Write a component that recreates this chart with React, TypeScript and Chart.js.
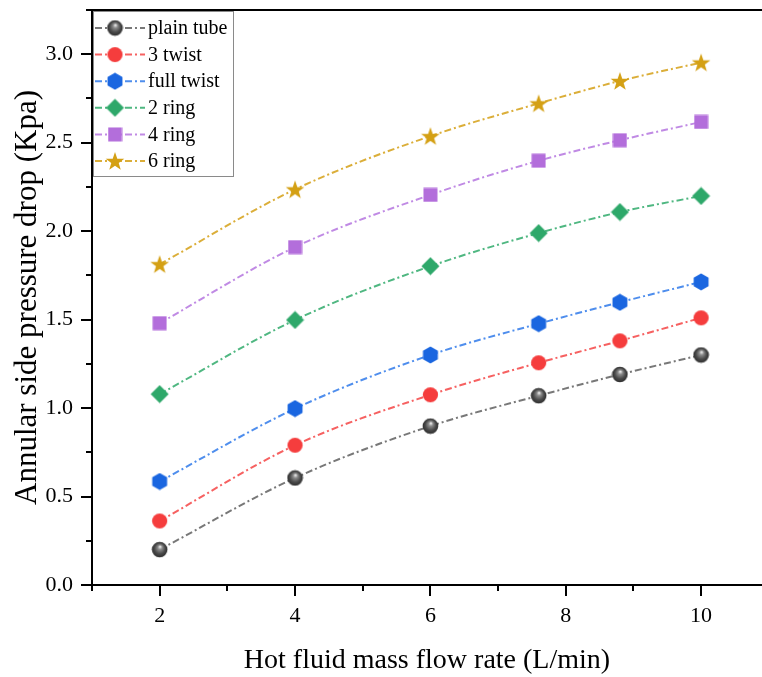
import React, { useEffect, useRef } from 'react';
import { Chart, registerables } from 'chart.js';

Chart.register(...registerables);

const flowRates = [2, 4, 6, 7.6, 8.8, 10];
const seriesNames = ['plain tube', '3 twist', 'full twist', '2 ring', '4 ring', '6 ring'];
const plainTube = [0.2, 0.605, 0.898, 1.07, 1.19, 1.3];
const threeTwist = [0.362, 0.79, 1.075, 1.256, 1.38, 1.51];
const fullTwist = [0.585, 0.997, 1.3, 1.477, 1.598, 1.713];
const twoRing = [1.079, 1.498, 1.802, 1.989, 2.108, 2.199];
const fourRing = [1.48, 1.91, 2.205, 2.398, 2.514, 2.617];
const sixRing = [1.813, 2.236, 2.537, 2.722, 2.849, 2.953];
const xTickLabels = [2, 4, 6, 8, 10];
const yTickLabels = [0, 0.5, 1, 1.5, 2, 2.5, 3];

const markerColors = ['#4a4a4a', '#F53D3D', '#1A66E0', '#2EA86A', '#B36EDB', '#D4A014'];
const lineColors = [
  'rgba(105,105,105,0.9)',
  'rgba(245,80,80,0.9)',
  'rgba(60,130,235,0.9)',
  'rgba(60,175,115,0.9)',
  'rgba(185,125,225,0.9)',
  'rgba(215,165,35,0.9)',
];

const SERIF = '"Liberation Serif", "Times New Roman", serif';

function makeCanvas(size: number, draw: (ctx: CanvasRenderingContext2D, c: number) => void) {
  const cv = document.createElement('canvas');
  cv.width = size;
  cv.height = size;
  const ctx = cv.getContext('2d')!;
  draw(ctx, size / 2);
  return cv;
}

function makeMarkers() {
  const sphere = makeCanvas(17, (ctx, c) => {
    const g = ctx.createRadialGradient(c + 0.5, c - 3, 0.3, c, c, 8);
    g.addColorStop(0, '#f0f0f0');
    g.addColorStop(0.25, '#8c8c8c');
    g.addColorStop(0.65, '#4a4a4a');
    g.addColorStop(1, '#2c2c2c');
    ctx.fillStyle = g;
    ctx.beginPath();
    ctx.arc(c, c, 7.8, 0, Math.PI * 2);
    ctx.fill();
  });
  const circle = makeCanvas(17, (ctx, c) => {
    ctx.fillStyle = markerColors[1];
    ctx.beginPath();
    ctx.arc(c, c, 7.6, 0, Math.PI * 2);
    ctx.fill();
  });
  const hexagon = makeCanvas(18, (ctx, c) => {
    ctx.fillStyle = markerColors[2];
    ctx.beginPath();
    for (let k = 0; k < 6; k++) {
      const a = -Math.PI / 2 + (k * Math.PI) / 3;
      const x = c + 8.6 * Math.cos(a);
      const y = c + 8.6 * Math.sin(a);
      if (k === 0) ctx.moveTo(x, y);
      else ctx.lineTo(x, y);
    }
    ctx.closePath();
    ctx.fill();
  });
  const diamond = makeCanvas(19, (ctx, c) => {
    ctx.fillStyle = markerColors[3];
    ctx.beginPath();
    ctx.moveTo(c, c - 9);
    ctx.lineTo(c + 9, c);
    ctx.lineTo(c, c + 9);
    ctx.lineTo(c - 9, c);
    ctx.closePath();
    ctx.fill();
  });
  const square = makeCanvas(15, (ctx, c) => {
    ctx.fillStyle = markerColors[4];
    ctx.fillRect(c - 7, c - 7, 14, 14);
  });
  const star = makeCanvas(20, (ctx, c) => {
    ctx.fillStyle = markerColors[5];
    ctx.beginPath();
    for (let k = 0; k < 10; k++) {
      const a = -Math.PI / 2 + (k * Math.PI) / 5;
      const r = k % 2 === 0 ? 9.8 : 3.9;
      const x = c + r * Math.cos(a);
      const y = c + 0.8 + r * Math.sin(a);
      if (k === 0) ctx.moveTo(x, y);
      else ctx.lineTo(x, y);
    }
    ctx.closePath();
    ctx.fill();
  });
  return [sphere, circle, hexagon, diamond, square, star];
}

const DASH = [7, 3, 2, 3];

export default function App() {
  const ref = useRef<HTMLCanvasElement | null>(null);

  useEffect(() => {
    if (!ref.current) return;
    const markers = makeMarkers();
    const values = [plainTube, threeTwist, fullTwist, twoRing, fourRing, sixRing];

    const datasets = values.map((vals, i) => ({
      label: seriesNames[i],
      data: flowRates.map((x, j) => ({ x, y: vals[j] })),
      borderColor: lineColors[i],
      backgroundColor: markerColors[i],
      borderWidth: 2,
      borderDash: DASH,
      cubicInterpolationMode: 'monotone' as const,
      pointStyle: markers[i] as any,
      pointRadius: 8,
      pointHoverRadius: 8,
    }));

    const framePlugin = {
      id: 'frameTicks',
      afterDraw(chart: any) {
        const { ctx, chartArea, scales } = chart;
        const xs = scales.x;
        const ys = scales.y;
        ctx.save();
        ctx.strokeStyle = '#000';
        ctx.lineWidth = 2;
        ctx.beginPath();
        ctx.moveTo(chartArea.left - 1, chartArea.top);
        ctx.lineTo(chartArea.right, chartArea.top);
        ctx.stroke();
        for (let v = 1; v <= 10; v++) {
          const px = Math.round(xs.getPixelForValue(v));
          const len = v % 2 === 0 ? 11 : 6;
          ctx.beginPath();
          ctx.moveTo(px, chartArea.bottom);
          ctx.lineTo(px, chartArea.bottom + len);
          ctx.stroke();
        }
        for (let k = 0; k <= 13; k++) {
          const v = k * 0.25;
          const py = Math.round(ys.getPixelForValue(v));
          const len = k % 2 === 0 ? 11 : 6;
          ctx.beginPath();
          ctx.moveTo(chartArea.left, py);
          ctx.lineTo(chartArea.left - len, py);
          ctx.stroke();
        }

        // legend
        const bx = chartArea.left + 1;
        const by = chartArea.top + 1;
        const bw = 140;
        const bh = 165;
        ctx.fillStyle = '#fff';
        ctx.fillRect(bx, by, bw, bh);
        ctx.strokeStyle = '#8a8a8a';
        ctx.lineWidth = 1;
        ctx.strokeRect(bx + 0.5, by + 0.5, bw, bh);
        ctx.font = `20px ${SERIF}`;
        ctx.textBaseline = 'middle';
        ctx.textAlign = 'left';
        for (let i = 0; i < seriesNames.length; i++) {
          const y = by + 17 + i * 26.6;
          ctx.strokeStyle = lineColors[i];
          ctx.lineWidth = 2;
          ctx.setLineDash(DASH);
          ctx.beginPath();
          ctx.moveTo(bx + 2, y);
          ctx.lineTo(bx + 52, y);
          ctx.stroke();
          ctx.setLineDash([]);
          const m = markers[i];
          ctx.drawImage(m, bx + 22 - m.width / 2, y - m.height / 2);
          ctx.fillStyle = '#000';
          ctx.fillText(seriesNames[i], bx + 55, y + 1);
        }
        ctx.restore();
      },
    };

    const chart = new Chart(ref.current, {
      type: 'line',
      data: { datasets: datasets as any },
      plugins: [framePlugin],
      options: {
        animation: false,
        responsive: false,
        layout: { autoPadding: false, padding: { top: 10, left: 0, right: 0, bottom: 0 } },
        plugins: { legend: { display: false }, tooltip: { enabled: false }, title: { display: false } },
        scales: {
          x: {
            type: 'linear',
            min: 1,
            max: 10.9,
            afterFit: (s: any) => {
              s.height = 92;
              s.paddingLeft = 0;
              s.paddingRight = 0;
              s.paddingTop = 0;
              s.paddingBottom = 0;
            },
            afterBuildTicks: (s: any) => {
              s.ticks = xTickLabels.map((v) => ({ value: v }));
            },
            grid: {
              drawOnChartArea: false,
              drawTicks: true,
              tickLength: 11,
              tickColor: 'rgba(0,0,0,0)',
            },
            border: { display: true, color: '#000', width: 2 },
            ticks: {
              color: '#000',
              font: { family: SERIF, size: 22 },
              padding: 7,
              maxRotation: 0,
              callback: (v: any) => String(v),
            },
            title: {
              display: true,
              text: 'Hot fluid mass flow rate (L/min)',
              color: '#000',
              font: { family: SERIF, size: 28 },
              padding: { top: 0, bottom: 0 },
            },
          },
          y: {
            type: 'linear',
            min: 0,
            max: 3.25,
            afterFit: (s: any) => {
              s.width = 92;
              s.paddingLeft = 0;
              s.paddingRight = 0;
              s.paddingTop = 0;
              s.paddingBottom = 0;
            },
            afterBuildTicks: (s: any) => {
              s.ticks = yTickLabels.map((v) => ({ value: v }));
            },
            grid: {
              drawOnChartArea: false,
              drawTicks: true,
              tickLength: 11,
              tickColor: 'rgba(0,0,0,0)',
            },
            border: { display: true, color: '#000', width: 2 },
            ticks: {
              color: '#000',
              font: { family: SERIF, size: 22 },
              padding: 8,
              callback: (v: any) => Number(v).toFixed(1),
            },
            title: {
              display: true,
              text: 'Annular side pressure drop (Kpa)',
              color: '#000',
              font: { family: SERIF, size: 31 },
              padding: { top: 9, bottom: 0 },
            },
          },
        },
      },
    });
    return () => chart.destroy();
  }, []);

  return (
    <div style={{ position: 'absolute', left: 0, top: 0, width: 762, height: 677, background: '#fff' }}>
      <canvas ref={ref} width={762} height={677} style={{ display: 'block' }} />
    </div>
  );
}
